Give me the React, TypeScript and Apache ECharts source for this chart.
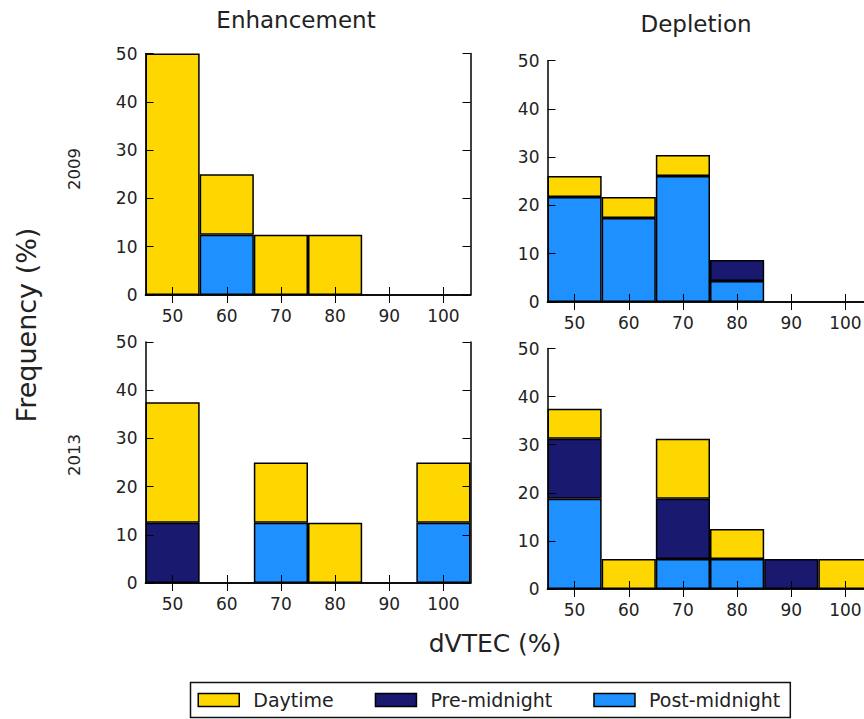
import React, { useEffect, useRef } from "react";
import * as echarts from "echarts";

// dVTEC bin centres (%)
const bins = ["50", "60", "70", "80", "90", "100"];
const yTicksMax = 50;
const yTickStep = 10;

// Frequency (%) per bin (null = empty bin for that group)
const enh2009Day = [50, 12.5, 12.5, 12.5, null, null];
const enh2009Pre = [null, null, null, null, null, null];
const enh2009Post = [null, 12.5, null, null, null, null];

const dep2009Day = [4.35, 4.35, 4.35, null, null, null];
const dep2009Pre = [null, null, null, 4.35, null, null];
const dep2009Post = [21.74, 17.39, 26.09, 4.35, null, null];

const enh2013Day = [25, null, 12.5, 12.5, null, 12.5];
const enh2013Pre = [12.5, null, null, null, null, null];
const enh2013Post = [null, null, 12.5, null, null, 12.5];

const dep2013Day = [6.25, 6.25, 12.5, 6.25, null, 6.25];
const dep2013Pre = [12.5, null, 12.5, null, 6.25, null];
const dep2013Post = [18.75, null, 6.25, 6.25, null, null];

const seriesNames = ["Daytime", "Pre-midnight", "Post-midnight"];
const colors: Record<string, string> = {
  Daytime: "#FFD700",
  "Pre-midnight": "#191970",
  "Post-midnight": "#1E90FF",
};

const panels = [
  { day: enh2009Day, pre: enh2009Pre, post: enh2009Post },
  { day: dep2009Day, pre: dep2009Pre, post: dep2009Post },
  { day: enh2013Day, pre: enh2013Pre, post: enh2013Post },
  { day: dep2013Day, pre: dep2013Pre, post: dep2013Post },
];

const CHART_W = 890;
const grids = [
  { left: 145.5, top: 53.5, width: 325, height: 241.5 },
  { left: 547.5, top: 60.7, width: 325, height: 241.3 },
  { left: 145.5, top: 342, width: 325, height: 241 },
  { left: 547.5, top: 348.5, width: 325, height: 240.5 },
];

const FONT = "DejaVu Sans";
const TXT = "#222";

export default function App() {
  const ref = useRef<HTMLDivElement>(null);
  useEffect(() => {
    document.body.style.margin = "0";
    document.body.style.overflow = "hidden";
    if (!ref.current) return;
    const chart = echarts.init(ref.current, undefined, { renderer: "svg" });

    const axisLine = { show: true, lineStyle: { color: "#000", width: 1.5 } };
    const tick = { show: true, inside: true, length: 8, lineStyle: { color: "#000", width: 1 } };

    const xAxis: any[] = [];
    const yAxis: any[] = [];
    const series: any[] = [];

    grids.forEach((_, i) => {
      xAxis.push({
        type: "category",
        gridIndex: i,
        data: bins,
        position: "bottom",
        z: 5,
        axisLine,
        axisTick: { ...tick, alignWithLabel: true },
        axisLabel: { show: true, fontFamily: FONT, fontSize: 17, color: TXT, margin: 12 },
        splitLine: { show: false },
      });
      xAxis.push({
        type: "category",
        gridIndex: i,
        data: bins,
        position: "top",
        z: 5,
        axisLine,
        axisTick: { ...tick, alignWithLabel: true },
        axisLabel: { show: false },
        splitLine: { show: false },
      });
      yAxis.push({
        type: "value",
        gridIndex: i,
        min: 0,
        max: yTicksMax,
        interval: yTickStep,
        position: "left",
        z: 5,
        axisLine,
        axisTick: tick,
        axisLabel: { show: true, fontFamily: FONT, fontSize: 17, color: TXT, margin: 8 },
        splitLine: { show: false },
      });
      yAxis.push({
        type: "value",
        gridIndex: i,
        min: 0,
        max: yTicksMax,
        interval: yTickStep,
        position: "right",
        z: 5,
        axisLine,
        axisTick: tick,
        axisLabel: { show: false },
        splitLine: { show: false },
      });

      const p = panels[i];
      const stackData: [string, (number | null)[]][] = [
        ["Post-midnight", p.post],
        ["Pre-midnight", p.pre],
        ["Daytime", p.day],
      ];
      stackData.forEach(([name, data]) => {
        series.push({
          type: "bar",
          name,
          xAxisIndex: i * 2,
          yAxisIndex: i * 2,
          stack: "s" + i,
          data: data.map((v) => (v === null ? "-" : v)),
          barCategoryGap: "0%",
          itemStyle: { color: colors[name], borderColor: "#000", borderWidth: 1.5 },
          emphasis: { disabled: true },
        });
      });
    });

    const option: any = {
      animation: false,
      backgroundColor: "#fff",
      grid: grids.map((g) => ({ ...g, containLabel: false })),
      xAxis,
      yAxis,
      series,
      legend: {
        data: seriesNames,
        left: 190.5,
        top: 682.5,
        orient: "horizontal",
        icon: "rect",
        itemWidth: 41,
        itemHeight: 13,
        itemGap: 41,
        padding: [8, 10, 8, 7],
        borderColor: "#111",
        borderWidth: 1.5,
        borderRadius: 0,
        backgroundColor: "#fff",
        selectedMode: false,
        itemStyle: { borderColor: "#000", borderWidth: 1.5 },
        textStyle: { fontFamily: FONT, fontSize: 19, color: TXT, padding: [0, 0, 0, 9] },
      },
      graphic: [
        { type: "text", x: 296, y: 20, style: { text: "Enhancement", font: `23px "${FONT}"`, fill: TXT, textAlign: "center", textVerticalAlign: "middle" } },
        { type: "text", x: 696, y: 24, style: { text: "Depletion", font: `23px "${FONT}"`, fill: TXT, textAlign: "center", textVerticalAlign: "middle" } },
        { type: "text", x: 74, y: 169, rotation: Math.PI / 2, style: { text: "2009", font: `16.5px "${FONT}"`, fill: TXT, textAlign: "center", textVerticalAlign: "middle" } },
        { type: "text", x: 74, y: 455, rotation: Math.PI / 2, style: { text: "2013", font: `16.5px "${FONT}"`, fill: TXT, textAlign: "center", textVerticalAlign: "middle" } },
        { type: "text", x: 26, y: 325, rotation: Math.PI / 2, style: { text: "Frequency (%)", font: `27px "${FONT}"`, fill: TXT, textAlign: "center", textVerticalAlign: "middle" } },
        { type: "text", x: 495, y: 643, style: { text: "dVTEC (%)", font: `25px "${FONT}"`, fill: TXT, textAlign: "center", textVerticalAlign: "middle" } },
      ],
    };
    chart.setOption(option);
    return () => chart.dispose();
  }, []);
  return <div ref={ref} style={{ width: CHART_W, height: 719 }} />;
}
